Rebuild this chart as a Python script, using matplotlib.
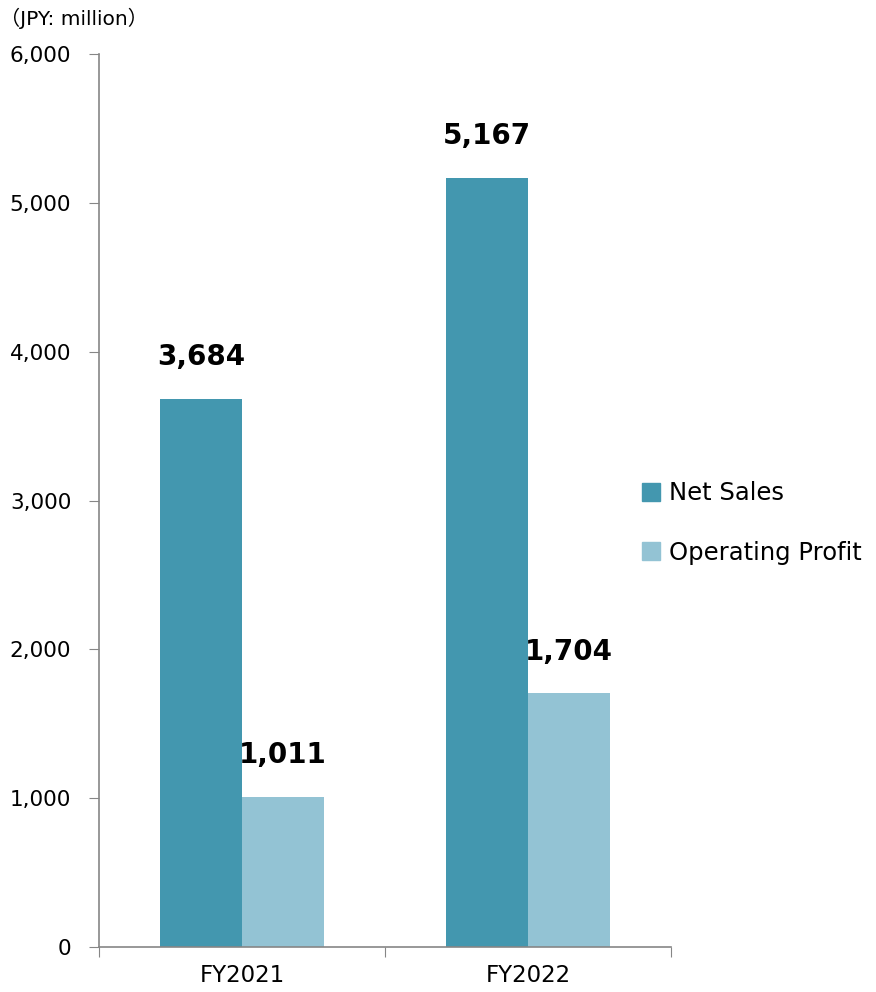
import numpy as np
import matplotlib
matplotlib.use("Agg")
import matplotlib.pyplot as plt
from matplotlib.patches import Patch

categories = ["FY2021", "FY2022"]
net_sales = [3684, 5167]
op_profit = [1011, 1704]
series_names = ["Net Sales", "Operating Profit"]
colors = ["#4397AF", "#93C3D4"]
y_ticks = [0, 1000, 2000, 3000, 4000, 5000, 6000]

fig = plt.figure(figsize=(8.76, 9.92), dpi=100)
ax = fig.add_axes([99 / 876, 45 / 992, 572 / 876, 893 / 992])

x = np.arange(len(categories))
w = 0.285
b1 = ax.bar(x - w / 2, net_sales, w, color=colors[0])
b2 = ax.bar(x + w / 2, op_profit, w, color=colors[1])

for bars, vals in [(b1, net_sales), (b2, op_profit)]:
    for rect, v in zip(bars, vals):
        ax.annotate(f"{v:,}", (rect.get_x() + rect.get_width() / 2, v),
                    xytext=(0, 30), textcoords="offset points",
                    ha="center", va="center", fontsize=20, fontweight="bold")

ax.set_xlim(-0.5, len(categories) - 0.5)
ax.set_ylim(0, 6000)
ax.set_yticks(y_ticks)
ax.set_yticklabels([f"{t:,}" for t in y_ticks], fontsize=15.5)
ax.set_xticks(np.arange(len(categories) + 1) - 0.5)
ax.set_xticklabels([])
ax.set_xticks(x, minor=True)
ax.set_xticklabels(categories, minor=True, fontsize=16.5)
ax.tick_params(axis="x", which="minor", length=0, pad=12)
ax.tick_params(axis="x", which="major", length=7, color="#868686")
ax.tick_params(axis="y", length=7, color="#868686", pad=13)

for s in ["top", "right"]:
    ax.spines[s].set_visible(False)
for s in ["left", "bottom"]:
    ax.spines[s].set_color("#868686")
    ax.spines[s].set_linewidth(1.2)

fig.text(0, 1 - 18 / 992, "（JPY: million）", fontsize=14.5,
         family=["DejaVu Sans", "Noto Sans CJK JP"], va="center", ha="left")

handles = [Patch(color=c) for c in colors]
fig.legend(handles, series_names, loc="center left",
           bbox_to_anchor=(620 / 876, 1 - 523 / 992), frameon=False,
           fontsize=17.5, handlelength=0.75, handleheight=0.75,
           handletextpad=0.35, labelspacing=1.45)

fig.savefig("out.png", dpi=100)
